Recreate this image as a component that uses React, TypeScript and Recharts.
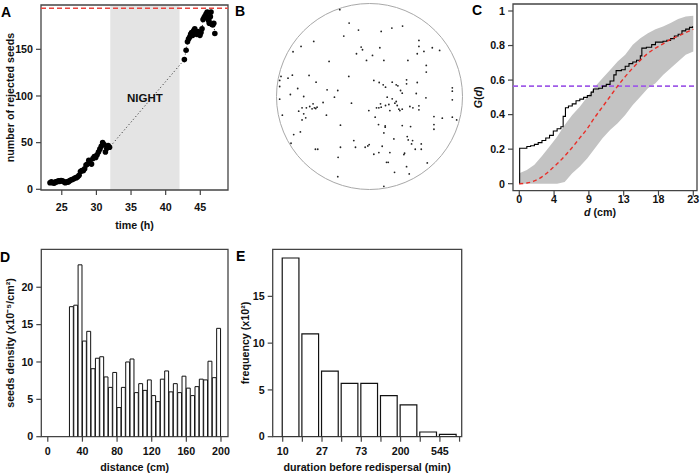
import React from 'react';
import {
  ComposedChart,
  ScatterChart,
  Line,
  Scatter,
  Bar,
  Area,
  XAxis,
  YAxis,
  ReferenceArea,
  ReferenceLine,
  ReferenceDot,
} from 'recharts';

const FONT = '"Liberation Sans", Arial, Helvetica, sans-serif';
const AXIS = '#444';
const tickStyle = { fontSize: 10.7, fontWeight: 700, fill: '#111', fontFamily: FONT };
const titleStyle = { fontSize: 10.7, fontWeight: 700, fill: '#111', fontFamily: FONT };

// A: rejected seeds over time
const timeDay1 = [23.3, 23.5, 23.7, 23.9, 24.1, 24.3, 24.5, 24.7, 24.9, 25.1, 25.3, 25.5, 25.7, 25.9, 26.1, 26.3, 26.5, 26.7, 26.9, 27.1, 27.3, 27.5, 27.7, 27.9, 28.1, 28.3, 28.5, 28.7, 28.9, 29.1, 29.3, 29.5, 29.7, 29.9, 30.1, 30.3, 30.5, 30.7, 30.9, 31.1, 31.3, 31.5, 31.7, 31.9];
const seedsDay1 = [7, 8, 7, 6.5, 8, 8, 9, 8.5, 9.5, 9, 8, 7, 8, 7.5, 9, 10, 10.5, 11, 12, 12.5, 13.5, 15, 19, 20, 20, 22, 26, 27, 31, 28, 27, 33, 35, 34, 37, 40, 43, 46, 50, 48, 40, 44, 47, 45];
const timeDay2 = [42.7, 42.95, 43.15, 43.3, 43.45, 43.6, 43.75, 43.9, 44.05, 44.2, 44.35, 44.5, 44.65, 44.8, 44.95, 45.1, 45.25, 45.4, 45.55, 45.7, 45.85, 46.0, 46.1, 46.2, 46.3, 46.45, 46.55, 46.65, 46.8, 46.95, 47.1];
const seedsDay2 = [139, 149, 158, 161, 163, 166, 168, 165, 170, 172, 168, 166, 169, 167, 165, 168, 172, 182, 184, 186, 188, 190, 183, 181, 178, 185, 190, 177, 176, 178, 167];
const totalSeeds = 194;
const nightStart = 32;
const nightEnd = 42;

// B: seed positions in the dish (centre = 0, rim radius ~280)
const dishX = [-89, -61, -33, 35, 67, 99, -77, -167, -205, -229, -25, -21, -39, 9, -9, 31, 43, -121, 148, 148, 163, 188, 210, 143, 115, 170, 170, -62, -181, -160, -231, -244, -265, -269, -269, -215, -237, -269, -127, -95, -105, -197, 13, 29, 41, 48, 68, 80, 85, 111, 111, 143, 93, 98, 140, 169, 248, 248, 248, -139, -54, -169, -179, -189, -165, -161, -157, -172, -202, -212, -197, -191, -202, -129, -261, -2, 21, 28, 33, 35, 48, 58, 68, 53, 80, 83, 88, 91, 98, 121, 130, 148, 148, 17, 27, 47, 47, 61, 76, 193, 218, 248, 261, 193, 193, 98, 123, -87, 43, -227, -207, -235, 73, 113, 116, 129, 126, 155, 155, 137, -47, -42, -13, -5, -1, -87, 38, -162, -155, -94, 13, 28, 61, 103, 105, 51, 56, 111, 75, 119, 173, -95, 43];
const dishY = [260, 220, 199, 195, 205, 211, 181, 165, 150, 134, 148, 140, 128, 123, 108, 146, 108, 105, 168, 150, 135, 146, 138, 128, 108, 93, 73, 60, 63, 43, 64, 55, 60, 48, 30, 24, 6, -8, 20, 18, -2, 0, 48, 42, 35, 28, 43, 35, 32, 50, 38, 42, 18, 10, 9, -4, 26, 16, -10, -18, -20, -22, -30, -34, -34, -36, -32, -37, -34, -44, -52, -64, -70, -56, -56, -42, -34, -34, -22, -32, -27, -24, -7, -2, -15, -27, -38, -42, -38, -30, -34, -28, -40, -62, -84, -88, -92, -42, -20, -60, -65, -62, -70, -84, -98, -87, -90, -86, -109, -114, -106, -140, -127, -120, -130, -132, -142, -142, -158, -158, -132, -152, -152, -148, -144, -152, -149, -158, -158, -182, -173, -168, -168, -174, -170, -197, -197, -210, -227, -232, -199, -240, -269];

// C: G(d) function
const gridDist = [0, 1, 2, 3, 4, 5, 6, 7, 8, 9, 10, 11, 12, 13, 14, 15, 16, 17, 18, 19, 20, 21, 22, 23];
const envLow = [0, 0, 0, 0, 0, 0, 0.01, 0.06, 0.1, 0.147, 0.205, 0.263, 0.311, 0.35, 0.398, 0.456, 0.504, 0.553, 0.582, 0.63, 0.669, 0.707, 0.746, 0.765];
const envHigh = [0.06, 0.08, 0.11, 0.16, 0.215, 0.272, 0.34, 0.398, 0.446, 0.504, 0.562, 0.611, 0.659, 0.707, 0.746, 0.804, 0.842, 0.871, 0.895, 0.91, 0.93, 0.953, 0.968, 0.972];
const csrG = [0, 0.004, 0.016, 0.04, 0.075, 0.115, 0.16, 0.21, 0.265, 0.32, 0.385, 0.445, 0.505, 0.565, 0.62, 0.67, 0.715, 0.755, 0.785, 0.81, 0.835, 0.855, 0.875, 0.895];
const obsDist = [0, 0.05, 1, 1.5, 2, 2.5, 3, 3.5, 4, 4.5, 5, 5.5, 5.8, 6.1, 6.5, 7, 7.5, 8, 8.5, 9, 9.5, 9.8, 10.5, 11, 11.5, 12, 12.5, 12.8, 13.5, 14, 14.5, 15, 15.5, 16, 16.2, 16.8, 17.5, 18, 19, 19.5, 20, 20.5, 21, 21.5, 22, 22.5, 22.9];
const obsG = [0, 0.205, 0.215, 0.22, 0.228, 0.238, 0.25, 0.265, 0.28, 0.305, 0.318, 0.33, 0.39, 0.44, 0.45, 0.462, 0.48, 0.49, 0.5, 0.51, 0.53, 0.548, 0.553, 0.565, 0.575, 0.595, 0.63, 0.655, 0.66, 0.68, 0.695, 0.705, 0.715, 0.74, 0.785, 0.79, 0.805, 0.82, 0.825, 0.83, 0.84, 0.855, 0.865, 0.885, 0.895, 0.905, 0.912];
const meanNeighbour = 0.565;
const cTicks = [0, 4.6, 9.2, 13.8, 18.4, 23];

// D: seed density vs distance (5 cm bins from 25 cm)
const distBinStart = Array.from({ length: 35 }, (_, i) => 25 + 5 * i);
const density = [17.4, 17.6, 23, 12.8, 14.1, 9.1, 10.5, 10.7, 8.0, 6.6, 8.6, 3.9, 6.6, 10.0, 10.4, 5.9, 7.1, 6.2, 7.6, 5.5, 4.7, 7.7, 8.8, 6.0, 7.1, 5.9, 8.1, 6.5, 5.5, 6.7, 7.7, 7.6, 10.1, 7.9, 14.5];

// E: duration before redispersal (log bins, half-e steps from 10 min)
const durBinLn = Array.from({ length: 9 }, (_, i) => Math.log(10) + 0.5 * i);
const frequency = [19.1, 11.0, 7.0, 5.7, 5.7, 4.4, 3.4, 0.5, 0.25];
const eTicks = Array.from({ length: 10 }, (_, i) => Math.log(10) + 0.5 * i);

const seedRows = [...timeDay1.map((t, i) => ({ t, n: seedsDay1[i] })), ...timeDay2.map((t, i) => ({ t, n: seedsDay2[i] }))];
const dishRows = dishX.map((x, i) => ({ x, y: dishY[i] }));
const gRows = gridDist.map((d, i) => ({ d, band: [envLow[i], envHigh[i]], csr: csrG[i] }));
const obsRows = obsDist.map((d, i) => ({ d, g: obsG[i] }));
const densityRows = distBinStart.map((s, i) => ({ x: s + 2.5, v: density[i] }));
const freqRows = durBinLn.map((s, i) => ({ x: s + 0.2125, f: frequency[i] }));

function XTitle(props: any) {
  const { viewBox, gap, txt, shift = 0 } = props;
  const x = viewBox.x + viewBox.width / 2 + shift;
  const y = viewBox.y + viewBox.height - gap;
  return (
    <text x={x} y={y} textAnchor="middle" style={titleStyle}>
      {txt}
    </text>
  );
}

function YTitle(props: any) {
  const { viewBox, gap, txt } = props;
  const x = viewBox.x + gap;
  const y = viewBox.y + viewBox.height / 2;
  return (
    <text x={x} y={y} textAnchor="middle" dominantBaseline="central" transform={`rotate(-90 ${x} ${y})`} style={titleStyle}>
      {txt}
    </text>
  );
}

const blackDot = (props: any) => <circle key={`d${props.index}`} cx={props.cx} cy={props.cy} r={2.8} fill="#000" />;
const dishDot = (props: any) => <circle cx={props.cx} cy={props.cy} r={0.9} fill="#222" />;

const box = (x1: number, x2: number, y1: number, y2: number) => (
  <ReferenceArea x1={x1} x2={x2} y1={y1} y2={y2} fill="none" stroke={AXIS} strokeWidth={1.3} ifOverflow="visible" />
);

const axisCommon = { axisLine: false, tickSize: 5, tickLine: { stroke: AXIS, strokeWidth: 1.2 }, tick: tickStyle, allowDataOverflow: true };

const panelLetters = [
  { s: 'A', x: 1, y: 17 },
  { s: 'B', x: 235, y: 16 },
  { s: 'C', x: 472, y: 15 },
  { s: 'D', x: 0, y: 262 },
  { s: 'E', x: 236, y: 261 },
];

export default function App() {
  return (
    <div style={{ position: 'absolute', left: 0, top: 0, width: 700, height: 474, background: '#fff', fontFamily: FONT }}>
      {/* A */}
      <div style={{ position: 'absolute', left: 0, top: 0 }}>
        <ComposedChart width={240} height={235} data={seedRows} margin={{ top: 5, right: 12, left: 0, bottom: 0 }}>
          <XAxis type="number" dataKey="t" domain={[22, 49]} ticks={[25, 30, 35, 40, 45]} height={45} tickMargin={8} {...axisCommon}
            label={<XTitle gap={6} txt="time (h)" />} />
          <YAxis type="number" domain={[-0.75, 197.5]} ticks={[0, 50, 100, 150]} width={41} tickMargin={3} {...axisCommon}
            label={<YTitle gap={10} txt="number of rejected seeds" />} />
          <ReferenceArea x1={nightStart} x2={nightEnd} y1={-0.75} y2={197.5} fill="#e4e4e4" fillOpacity={1} stroke="none" ifOverflow="visible"
            label={{ value: 'NIGHT', position: 'center', style: { fontSize: 11.5, fontWeight: 700, fill: '#111', fontFamily: FONT } }} />
          <ReferenceLine y={totalSeeds} stroke="#e8453f" strokeWidth={1.6} strokeDasharray="5 3" ifOverflow="visible" />
          <Line type="linear" dataKey="n" stroke="#222" strokeWidth={1} strokeDasharray="1 2.5" dot={blackDot} isAnimationActive={false} />
          {box(22, 49, -0.75, 197.5)}
        </ComposedChart>
      </div>

      {/* B */}
      <div style={{ position: 'absolute', left: 275.5, top: 2.5 }}>
        <ScatterChart width={187} height={187} margin={{ top: 0, right: 0, left: 0, bottom: 0 }}>
          <XAxis type="number" dataKey="x" domain={[-280, 280]} hide allowDataOverflow />
          <YAxis type="number" dataKey="y" domain={[-280, 280]} hide allowDataOverflow width={0} />
          <ReferenceDot x={0} y={0} r={93} fill="none" stroke="#a8a8a8" strokeWidth={1} ifOverflow="visible" />
          <Scatter data={dishRows} shape={dishDot} isAnimationActive={false} />
        </ScatterChart>
      </div>

      {/* C */}
      <div style={{ position: 'absolute', left: 471, top: 0 }}>
        <ComposedChart width={229} height={225} data={gRows} margin={{ top: 4, right: 3, left: 0, bottom: 0 }}>
          <XAxis type="number" dataKey="d" domain={[-0.83, 23.49]} ticks={cTicks} height={34.3} tickMargin={0} {...axisCommon}
            tickFormatter={(v: number) => String(Math.floor(v + 1e-6))}
            label={<XTitle gap={9} shift={-5} txt={<><tspan fontStyle="italic">d</tspan> (cm)</>} />} />
          <YAxis type="number" domain={[-0.0405, 1.0405]} ticks={[0, 0.2, 0.4, 0.6, 0.8, 1]} width={42} tickMargin={3} {...axisCommon}
            tickFormatter={(v: number) => String(v)}
            label={<YTitle gap={7} txt={<><tspan fontStyle="italic">G</tspan>(<tspan fontStyle="italic">d</tspan>)</>} />} />
          <Area type="linear" dataKey="band" fill="#c3c3c3" fillOpacity={1} stroke="none" isAnimationActive={false} />
          <ReferenceLine y={meanNeighbour} stroke="#a05ce8" strokeWidth={1.6} strokeDasharray="5 3" ifOverflow="visible" />
          <Line type="stepAfter" data={obsRows} dataKey="g" stroke="#000" strokeWidth={1.1} dot={false} isAnimationActive={false} />
          <Line type="monotone" dataKey="csr" stroke="#e8302a" strokeWidth={1.4} strokeDasharray="4 3" dot={false} isAnimationActive={false} />
          {box(-0.83, 23.49, -0.0405, 1.0405)}
        </ComposedChart>
      </div>

      {/* D */}
      <div style={{ position: 'absolute', left: 0, top: 240 }}>
        <ComposedChart width={240} height={234} data={densityRows} margin={{ top: 9.3, right: 12, left: 0, bottom: 0 }}>
          <XAxis type="number" dataKey="x" domain={[-7.5, 208.1]} ticks={[0, 40, 80, 120, 160, 200]} height={37.3} tickMargin={6} {...axisCommon}
            label={<XTitle gap={3} txt="distance (cm)" />} />
          <YAxis type="number" domain={[0, 25.08]} ticks={[0, 5, 10, 15, 20]} width={41.3} tickMargin={3} {...axisCommon}
            label={<YTitle gap={10} txt="seeds density (x10⁻⁵/cm²)" />} />
          <Bar dataKey="v" barSize={4.33} fill="#fff" stroke="#111" strokeWidth={1} isAnimationActive={false} />
          {box(-7.5, 208.1, 0, 25.08)}
        </ComposedChart>
      </div>

      {/* E */}
      <div style={{ position: 'absolute', left: 235, top: 240 }}>
        <ComposedChart width={235} height={234} data={freqRows} margin={{ top: 9.3, right: 8.3, left: 0, bottom: 0 }}>
          <XAxis type="number" dataKey="x" domain={[2.048, 6.857]} ticks={eTicks} height={37.3} tickMargin={6} {...axisCommon}
            tickFormatter={(v: number, i: number) => (i % 2 === 0 ? String(Math.floor(Math.exp(v) + 1e-6)) : '')}
            label={<XTitle gap={3} txt="duration before redispersal (min)" />} />
          <YAxis type="number" domain={[0, 20.03]} ticks={[0, 5, 10, 15]} width={37.7} tickMargin={3} {...axisCommon}
            label={<YTitle gap={10} txt="frequency (x10²)" />} />
          <Bar dataKey="f" barSize={16.7} fill="#fff" stroke="#111" strokeWidth={1.2} isAnimationActive={false} />
          {box(2.048, 6.857, 0, 20.03)}
        </ComposedChart>
      </div>

      <svg width={700} height={474} style={{ position: 'absolute', left: 0, top: 0, pointerEvents: 'none' }}>
        {panelLetters.map((p) => (
          <text key={p.s} x={p.x} y={p.y} style={{ fontSize: 14, fontWeight: 700, fill: '#000', fontFamily: FONT }}>
            {p.s}
          </text>
        ))}
      </svg>
    </div>
  );
}
